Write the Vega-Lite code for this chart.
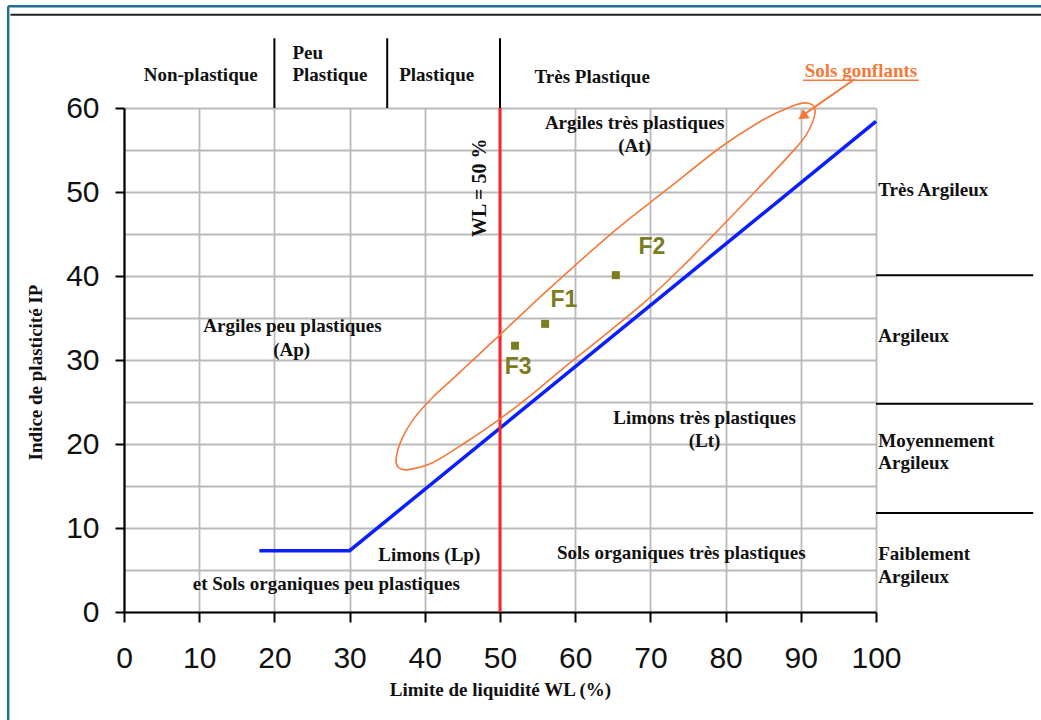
{
  "$schema": "https://vega.github.io/schema/vega-lite/v6.json",
  "width": 752,
  "height": 504,
  "autosize": {"type": "none"},
  "padding": {"left": 124, "top": 108, "right": 165, "bottom": 108},
  "background": "white",
  "config": {"view": {"stroke": null}},
  "datasets": {
    "aline": [{"wl": 18, "ip": 7.3}, {"wl": 30, "ip": 7.3}, {"wl": 100, "ip": 58.4}],
    "ellipse": [
      {"i": 1, "wl": 36.2, "ip": 18.3}, {"i": 2, "wl": 37.0, "ip": 20.7}, {"i": 3, "wl": 38.7, "ip": 23.2},
      {"i": 4, "wl": 41.1, "ip": 25.6}, {"i": 5, "wl": 44.0, "ip": 28.0}, {"i": 6, "wl": 47.0, "ip": 30.5},
      {"i": 7, "wl": 50.0, "ip": 33.0}, {"i": 8, "wl": 56.2, "ip": 38.2}, {"i": 9, "wl": 65.0, "ip": 45.2},
      {"i": 10, "wl": 72.2, "ip": 50.3}, {"i": 11, "wl": 79.3, "ip": 55.3}, {"i": 12, "wl": 84.6, "ip": 58.4},
      {"i": 13, "wl": 88.5, "ip": 60.1}, {"i": 14, "wl": 90.8, "ip": 60.6}, {"i": 15, "wl": 91.9, "ip": 59.8},
      {"i": 16, "wl": 91.2, "ip": 57.6}, {"i": 17, "wl": 89.5, "ip": 55.4}, {"i": 18, "wl": 84.2, "ip": 50.3},
      {"i": 19, "wl": 78.3, "ip": 44.8}, {"i": 20, "wl": 73.9, "ip": 40.8}, {"i": 21, "wl": 69.0, "ip": 36.7},
      {"i": 22, "wl": 63.0, "ip": 32.3}, {"i": 23, "wl": 58.4, "ip": 29.0}, {"i": 24, "wl": 54.5, "ip": 26.1},
      {"i": 25, "wl": 50.0, "ip": 23.0}, {"i": 26, "wl": 45.6, "ip": 20.3}, {"i": 27, "wl": 41.1, "ip": 17.8},
      {"i": 28, "wl": 37.8, "ip": 16.95}, {"i": 29, "wl": 36.5, "ip": 17.2}
    ],
    "samples": [
      {"name": "F1", "wl": 56.0, "ip": 34.3, "lx": 58.5, "ly": 37.1},
      {"name": "F2", "wl": 65.4, "ip": 40.1, "lx": 70.2, "ly": 43.5},
      {"name": "F3", "wl": 52.0, "ip": 31.7, "lx": 52.4, "ly": 29.2}
    ],
    "arrow": [{"wl": 97.2, "ip": 63.45}, {"wl": 90.3, "ip": 59.15}],
    "arrowhead": [{"wl": 90.4, "ip": 59.1}],
    "separators": [{"wl": 20, "y1": 60, "y2": 68.3}, {"wl": 35, "y1": 60, "y2": 68.3}, {"wl": 50, "y1": 60, "y2": 68.3}],
    "classes": [{"ip": 40.1, "x1": 100, "x2": 120.9}, {"ip": 24.8, "x1": 100, "x2": 120.9}, {"ip": 11.8, "x1": 100, "x2": 120.9}],
    "leftText": [
      {"t": "Peu", "x": 22.4, "y": 65.8},
      {"t": "Plastique", "x": 22.4, "y": 63.2},
      {"t": "Plastique", "x": 36.6, "y": 63.2},
      {"t": "Très Plastique", "x": 54.6, "y": 63.0},
      {"t": "Très Argileux", "x": 100.3, "y": 49.5},
      {"t": "Argileux", "x": 100.3, "y": 32.1},
      {"t": "Moyennement", "x": 100.3, "y": 19.6},
      {"t": "Argileux", "x": 100.3, "y": 17.0},
      {"t": "Faiblement", "x": 100.3, "y": 6.2},
      {"t": "Argileux", "x": 100.3, "y": 3.5}
    ],
    "centerText": [
      {"t": "Non-plastique", "x": 10.2, "y": 63.2},
      {"t": "Argiles très plastiques", "x": 67.9, "y": 57.5},
      {"t": "(At)", "x": 67.9, "y": 54.8},
      {"t": "Argiles peu plastiques", "x": 22.4, "y": 33.3},
      {"t": "(Ap)", "x": 22.3, "y": 30.5},
      {"t": "Limons très plastiques", "x": 77.2, "y": 22.4},
      {"t": "(Lt)", "x": 77.2, "y": 19.6},
      {"t": "Limons (Lp)", "x": 40.6, "y": 6.1},
      {"t": "et Sols organiques peu plastiques", "x": 26.9, "y": 2.6},
      {"t": "Sols organiques très plastiques", "x": 74.1, "y": 6.3}
    ],
    "frameV": [{"x": -15.4, "y1": -13, "y2": 72.1}],
    "frameH": [{"y": 72.1, "x1": -15.4, "x2": 122.5}],
    "frameK": [{"y": 71.1, "x1": -15.1, "x2": 122.5}]
  },
  "layer": [
    {
      "data": {"name": "aline"},
      "mark": {"type": "line", "color": "#0a1eff", "strokeWidth": 3.5},
      "encoding": {
        "x": {
          "field": "wl", "type": "quantitative",
          "scale": {"domain": [0, 100], "nice": false, "zero": false},
          "axis": {
            "values": [0,5,10,15,20,25,30,35,40,45,50,55,60,65,70,75,80,85,90,95,100],
            "labelExpr": "datum.value % 10 === 0 ? datum.label : ''",
            "title": "Limite de liquidité WL (%)",
            "titleFont": "Liberation Serif", "titleFontWeight": "bold", "titleFontSize": 19, "titleColor": "#111",
            "titlePadding": 7,
            "labelFont": "Liberation Sans", "labelFontSize": 30, "labelColor": "#111", "labelPadding": 21,
            "labelFlush": false, "labelOverlap": false,
            "grid": true, "gridColor": "#bababa", "gridWidth": 1.8,
            "domainColor": "#000", "domainWidth": 2.2,
            "tickSize": 10, "tickWidth": 2,
            "tickColor": {"condition": {"test": "datum.value % 10 === 0", "value": "#000"}, "value": "rgba(0,0,0,0)"}
          }
        },
        "y": {
          "field": "ip", "type": "quantitative",
          "scale": {"domain": [0, 60], "nice": false, "zero": false},
          "axis": {
            "values": [0,5,10,15,20,25,30,35,40,45,50,55,60],
            "labelExpr": "datum.value % 10 === 0 ? datum.label : ''",
            "title": "Indice de plasticité IP",
            "titleFont": "Liberation Serif", "titleFontWeight": "bold", "titleFontSize": 19, "titleColor": "#111",
            "titlePadding": 20, "titleY": 264,
            "labelFont": "Liberation Sans", "labelFontSize": 30, "labelColor": "#111", "labelPadding": 16,
            "labelFlush": false, "labelOverlap": false,
            "grid": true, "gridColor": "#bababa", "gridWidth": 1.8,
            "domainColor": "#000", "domainWidth": 2.2,
            "tickSize": 9, "tickWidth": 2,
            "tickColor": {"condition": {"test": "datum.value % 10 === 0", "value": "#000"}, "value": "rgba(0,0,0,0)"}
          }
        }
      }
    },
    {
      "data": {"values": [{"wl": 50, "y1": 0, "y2": 60}]},
      "mark": {"type": "rule", "color": "#f8262a", "strokeWidth": 3},
      "encoding": {
        "x": {"field": "wl", "type": "quantitative"},
        "y": {"field": "y1", "type": "quantitative"},
        "y2": {"field": "y2"}
      }
    },
    {
      "data": {"name": "separators"},
      "mark": {"type": "rule", "color": "#000", "strokeWidth": 2},
      "encoding": {
        "x": {"field": "wl", "type": "quantitative"},
        "y": {"field": "y1", "type": "quantitative"},
        "y2": {"field": "y2"}
      }
    },
    {
      "data": {"name": "classes"},
      "mark": {"type": "rule", "color": "#000", "strokeWidth": 2},
      "encoding": {
        "y": {"field": "ip", "type": "quantitative"},
        "x": {"field": "x1", "type": "quantitative"},
        "x2": {"field": "x2"}
      }
    },
    {
      "data": {"name": "ellipse"},
      "mark": {"type": "line", "color": "#f4793b", "strokeWidth": 1.6, "interpolate": "cardinal-closed"},
      "encoding": {
        "x": {"field": "wl", "type": "quantitative"},
        "y": {"field": "ip", "type": "quantitative"},
        "order": {"field": "i", "type": "quantitative"}
      }
    },
    {
      "data": {"name": "arrow"},
      "mark": {"type": "line", "color": "#f4793b", "strokeWidth": 2},
      "encoding": {
        "x": {"field": "wl", "type": "quantitative"},
        "y": {"field": "ip", "type": "quantitative"}
      }
    },
    {
      "data": {"name": "arrowhead"},
      "mark": {"type": "point", "shape": "triangle", "filled": true, "color": "#f4793b", "opacity": 1, "size": 130, "angle": 235},
      "encoding": {
        "x": {"field": "wl", "type": "quantitative"},
        "y": {"field": "ip", "type": "quantitative"}
      }
    },
    {
      "data": {"values": [{"y": 63.3, "x1": 90.3, "x2": 105.7}]},
      "mark": {"type": "rule", "color": "#f4793b", "strokeWidth": 1.5},
      "encoding": {
        "y": {"field": "y", "type": "quantitative"},
        "x": {"field": "x1", "type": "quantitative"},
        "x2": {"field": "x2"}
      }
    },
    {
      "data": {"values": [{"t": "Sols gonflants", "x": 98.0, "y": 63.75}]},
      "mark": {"type": "text", "font": "Liberation Serif", "fontWeight": "bold", "fontSize": 19, "color": "#f4793b", "align": "center", "baseline": "alphabetic"},
      "encoding": {
        "x": {"field": "x", "type": "quantitative"},
        "y": {"field": "y", "type": "quantitative"},
        "text": {"field": "t"}
      }
    },
    {
      "data": {"name": "samples"},
      "mark": {"type": "square", "filled": true, "color": "#7c7c20", "opacity": 1, "size": 64},
      "encoding": {
        "x": {"field": "wl", "type": "quantitative"},
        "y": {"field": "ip", "type": "quantitative"}
      }
    },
    {
      "data": {"name": "samples"},
      "mark": {"type": "text", "font": "Liberation Sans", "fontWeight": "bold", "fontSize": 23, "color": "#7c7c20", "align": "center", "baseline": "middle"},
      "encoding": {
        "x": {"field": "lx", "type": "quantitative"},
        "y": {"field": "ly", "type": "quantitative"},
        "text": {"field": "name"}
      }
    },
    {
      "data": {"name": "leftText"},
      "mark": {"type": "text", "font": "Liberation Serif", "fontWeight": "bold", "fontSize": 19, "color": "#111", "align": "left", "baseline": "alphabetic"},
      "encoding": {
        "x": {"field": "x", "type": "quantitative"},
        "y": {"field": "y", "type": "quantitative"},
        "text": {"field": "t"}
      }
    },
    {
      "data": {"name": "centerText"},
      "mark": {"type": "text", "font": "Liberation Serif", "fontWeight": "bold", "fontSize": 19, "color": "#111", "align": "center", "baseline": "alphabetic"},
      "encoding": {
        "x": {"field": "x", "type": "quantitative"},
        "y": {"field": "y", "type": "quantitative"},
        "text": {"field": "t"}
      }
    },
    {
      "data": {"values": [{"t": "WL = 50 %", "x": 48.2, "y": 50.5}]},
      "mark": {"type": "text", "font": "Liberation Serif", "fontWeight": "bold", "fontSize": 20, "color": "#111", "align": "center", "baseline": "alphabetic", "angle": 270},
      "encoding": {
        "x": {"field": "x", "type": "quantitative"},
        "y": {"field": "y", "type": "quantitative"},
        "text": {"field": "t"}
      }
    },
    {
      "data": {"name": "frameV"},
      "mark": {"type": "rule", "color": "#1f6e98", "strokeWidth": 2.5},
      "encoding": {
        "x": {"field": "x", "type": "quantitative"},
        "y": {"field": "y1", "type": "quantitative"},
        "y2": {"field": "y2"}
      }
    },
    {
      "data": {"name": "frameH"},
      "mark": {"type": "rule", "color": "#1f6e98", "strokeWidth": 2.5},
      "encoding": {
        "y": {"field": "y", "type": "quantitative"},
        "x": {"field": "x1", "type": "quantitative"},
        "x2": {"field": "x2"}
      }
    },
    {
      "data": {"name": "frameK"},
      "mark": {"type": "rule", "color": "#222", "strokeWidth": 2},
      "encoding": {
        "y": {"field": "y", "type": "quantitative"},
        "x": {"field": "x1", "type": "quantitative"},
        "x2": {"field": "x2"}
      }
    }
  ]
}
